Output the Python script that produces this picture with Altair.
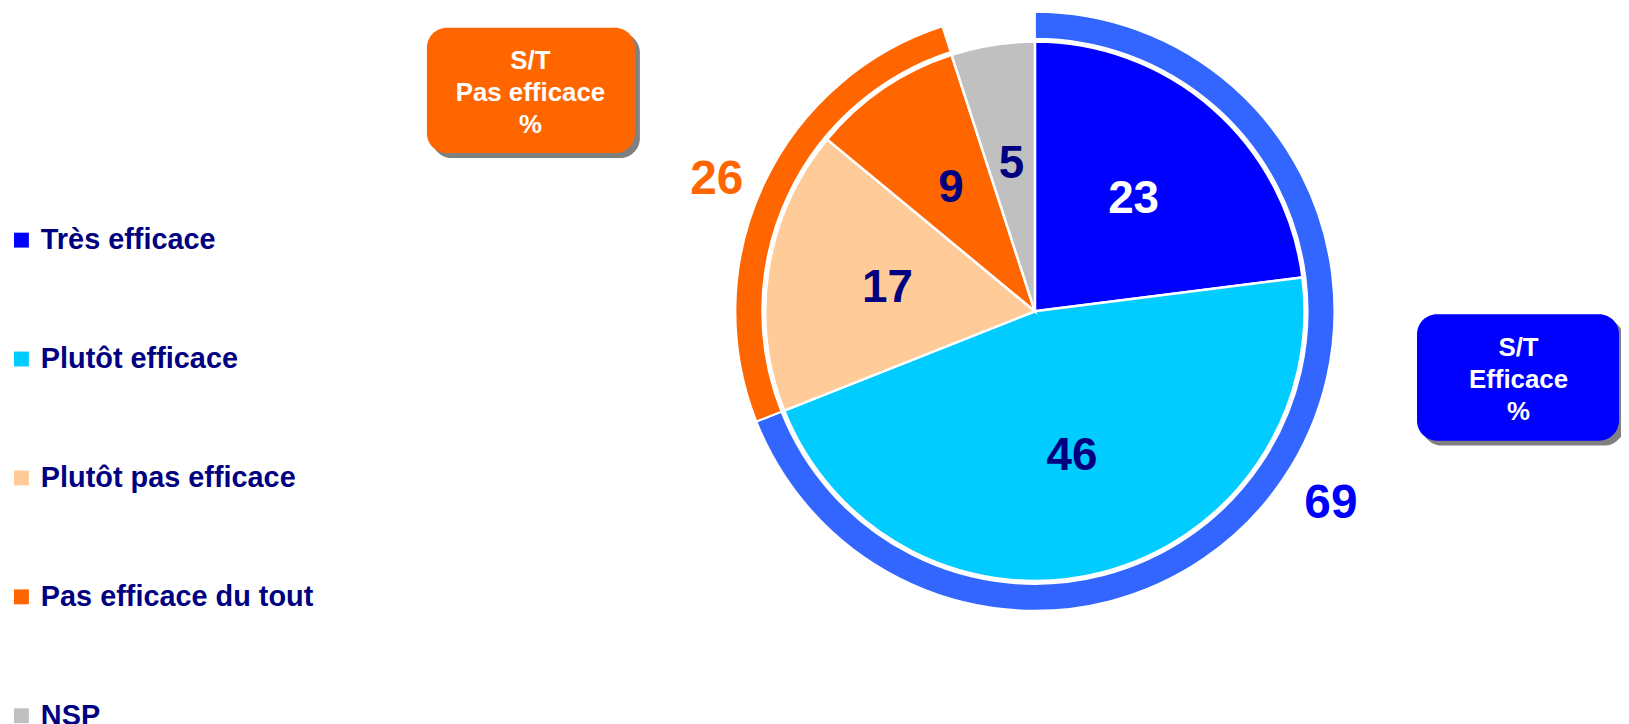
import altair as alt
import pandas as pd

# ---- data ----
categories = ["Très efficace", "Plutôt efficace", "Plutôt pas efficace", "Pas efficace du tout", "NSP"]
values = [23, 46, 17, 9, 5]
groups = ["S/T Efficace", "S/T Pas efficace"]
group_values = [69, 26]
box_orange_lines = ["S/T", "Pas efficace", "%"]
box_blue_lines = ["S/T", "Efficace", "%"]

# ---- styles ----
slice_colors = ["#0000FF", "#00CCFF", "#FFCC99", "#FF6600", "#C0C0C0"]
ring_colors = ["#3366FF", "#FF6600"]
NAVY = "#000080"
FONT = "Liberation Sans"
CX, CY = 1032, 303

pie_df = pd.DataFrame({"categorie": categories, "valeur": values, "ordre": list(range(len(categories)))})
ring_df = pd.DataFrame({"groupe": groups, "valeur": group_values, "ordre": list(range(len(groups)))})

theta_scale = alt.Scale(domain=[0, 100])

pie = alt.Chart(pie_df).mark_arc(outerRadius=271, stroke="white", strokeWidth=2.5).encode(
    theta=alt.Theta("valeur:Q", stack=True, scale=theta_scale),
    color=alt.Color(
        "categorie:N",
        scale=alt.Scale(domain=categories, range=slice_colors),
        sort=categories,
        legend=alt.Legend(
            title=None, orient="none", legendX=-1, legendY=217,
            symbolType="square", symbolSize=225, symbolStrokeWidth=0, symbolOpacity=1,
            labelFontSize=29, labelFont=FONT, labelFontWeight="bold", labelColor=NAVY,
            rowPadding=89.5, labelOffset=5, padding=0, labelLimit=500,
        ),
    ),
    order=alt.Order("ordre:Q"),
    x=alt.value(CX), y=alt.value(CY),
)

pie_text = alt.Chart(pie_df).mark_text(
    radius=150, font=FONT, fontSize=46, fontWeight="bold", align="center", baseline="middle"
).encode(
    theta=alt.Theta("valeur:Q", stack=True, scale=theta_scale),
    order=alt.Order("ordre:Q"),
    text=alt.Text("valeur:Q"),
    color=alt.condition(alt.datum.categorie == "Très efficace", alt.value("white"), alt.value(NAVY)),
    x=alt.value(CX), y=alt.value(CY),
)

ring = alt.Chart(ring_df).mark_arc(innerRadius=274, outerRadius=301, stroke="white", strokeWidth=2).encode(
    theta=alt.Theta("valeur:Q", stack=True, scale=theta_scale),
    color=alt.Color("groupe:N", scale=alt.Scale(domain=groups, range=ring_colors), legend=None),
    order=alt.Order("ordre:Q"),
    x=alt.value(CX), y=alt.value(CY),
)


def ring_label(group, color, dx, dy):
    return alt.Chart(ring_df).mark_text(
        radius=350, font=FONT, fontSize=48, fontWeight="bold", align="center", baseline="middle",
        dx=dx, dy=dy, color=color,
    ).encode(
        theta=alt.Theta("valeur:Q", stack=True, scale=theta_scale),
        order=alt.Order("ordre:Q"),
        text=alt.condition(alt.datum.groupe == group, alt.Text("valeur:Q"), alt.value("")),
        x=alt.value(CX), y=alt.value(CY),
    )


ring_text_eff = ring_label(groups[0], "#0000FF", 8, -3)
ring_text_pas = ring_label(groups[1], "#FF6600", -3, 17)


def box(x1, y1, x2, y2, fill, lines, tx, ty):
    base = alt.Chart(pd.DataFrame({"a": [0]}))
    shadow = base.mark_rect(cornerRadius=20, color="#808080").encode(
        x=alt.value(x1 + 5), x2=alt.value(x2 + 5), y=alt.value(y1 + 5), y2=alt.value(y2 + 5)
    )
    rect = base.mark_rect(cornerRadius=20, color=fill).encode(
        x=alt.value(x1), x2=alt.value(x2), y=alt.value(y1), y2=alt.value(y2)
    )
    txt = base.mark_text(
        font=FONT, fontSize=26, fontWeight="bold", color="white", align="center",
        baseline="alphabetic", lineHeight=32, text=lines
    ).encode(x=alt.value(tx), y=alt.value(ty))
    return shadow + rect + txt


box_orange = box(421, 18, 630, 144, "#FF6600", box_orange_lines, 525, 60)
box_blue = box(1416, 306, 1619, 433, "#0000FF", box_blue_lines, 1518, 348)

chart = alt.layer(ring, pie, pie_text, ring_text_eff, ring_text_pas, box_orange, box_blue).resolve_scale(
    color="independent"
).properties(
    width=1621, height=716, padding=0, autosize=alt.AutoSizeParams(type="none"), background="white"
).configure_view(stroke=None)

chart.save("out.html", embed_options={"renderer": "svg", "actions": False})
